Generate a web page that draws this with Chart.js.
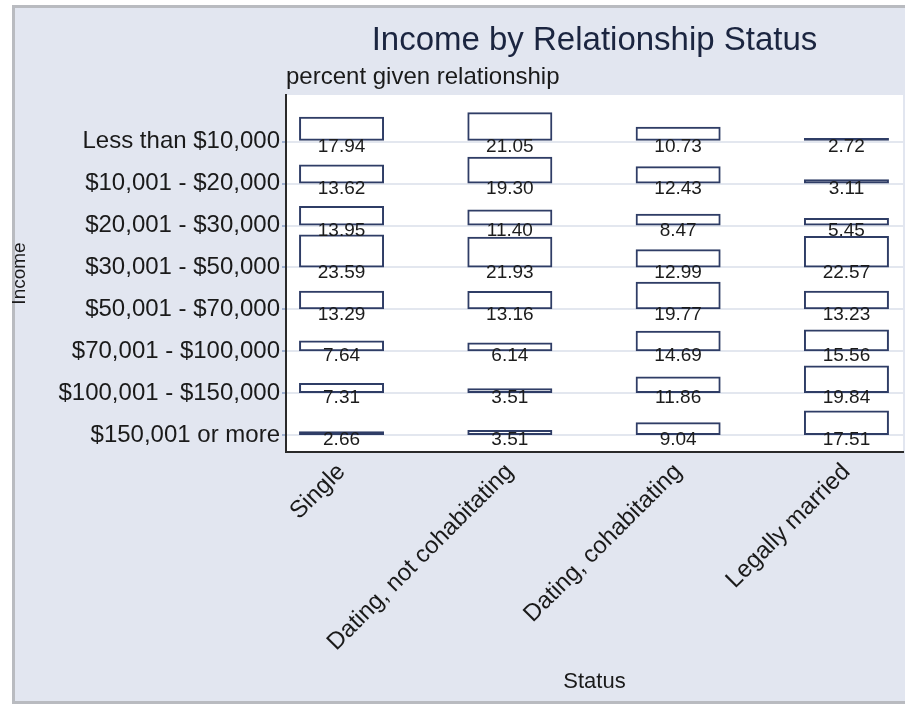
<!DOCTYPE html>
<html>
<head>
<meta charset="utf-8">
<title>Income by Relationship Status</title>
<script src="https://cdn.jsdelivr.net/npm/chart.js@4.4.1/dist/chart.umd.min.js"></script>
<style>
  html, body { margin: 0; padding: 0; background: #fff; }
  #wrap { width: 905px; height: 704px; }
</style>
</head>
<body>
<div id="wrap"><canvas id="chart" width="905" height="704"></canvas></div>
<script>
// income rows, top to bottom
const incomeLevels = [
    'Less than $10,000',
    '$10,001 - $20,000',
    '$20,001 - $30,000',
    '$30,001 - $50,000',
    '$50,001 - $70,000',
    '$70,001 - $100,000',
    '$100,001 - $150,000',
    '$150,001 or more'
];

const statuses = ['Single', 'Dating, not cohabitating', 'Dating, cohabitating', 'Legally married'];

// percent given relationship (each column sums to 100)
const single         = [17.94, 13.62, 13.95, 23.59, 13.29, 7.64, 7.31, 2.66];
const datingNotCohab = [21.05, 19.30, 11.40, 21.93, 13.16, 6.14, 3.51, 3.51];
const datingCohab    = [10.73, 12.43, 8.47, 12.99, 19.77, 14.69, 11.86, 9.04];
const legallyMarried = [2.72, 3.11, 5.45, 22.57, 13.23, 15.56, 19.84, 17.51];

const columns = [single, datingNotCohab, datingCohab, legallyMarried];

// one row of the plot holds this many percent of bar height
const PERCENT_PER_ROW = 30;

const FONT = "'Liberation Sans', Arial, sans-serif";

// bars sit on the row line and grow upward (y axis is reversed)
function buildData(values, col) {
    return values.map((v, row) => ({
        x: col + 1,
        y: [row - v / PERCENT_PER_ROW, row]
    }));
}

const datasets = columns.map((values, col) => ({
    label: statuses[col],
    data: buildData(values, col),
    grouped: false,
    backgroundColor: 'rgba(0,0,0,0)',
    borderColor: '#2f3d66',
    borderWidth: 2,
    borderSkipped: false,
    categoryPercentage: 1,
    barPercentage: 0.505
}));

// frame and white plot region
const backgroundPlugin = {
    id: 'frameBackground',
    beforeDraw(chart) {
        const { ctx, chartArea } = chart;
        ctx.save();
        ctx.fillStyle = '#ffffff';
        ctx.fillRect(0, 0, chart.width, chart.height);
        ctx.fillStyle = '#b9bbc0';
        ctx.fillRect(12, 5, chart.width - 12, chart.height - 5);
        ctx.fillStyle = '#e2e6f0';
        ctx.fillRect(15, 8, chart.width - 15, chart.height - 11);
        ctx.fillStyle = '#ffffff';
        ctx.fillRect(chartArea.left, chartArea.top,
            chartArea.right - chartArea.left, chartArea.bottom - chartArea.top);
        ctx.restore();
    }
};

// percent labels under each bar
const valueLabelPlugin = {
    id: 'valueLabels',
    afterDatasetsDraw(chart) {
        const { ctx } = chart;
        const yScale = chart.scales.y;
        ctx.save();
        ctx.font = '19px ' + FONT;
        ctx.fillStyle = '#1c1c1c';
        ctx.textAlign = 'center';
        ctx.textBaseline = 'middle';
        columns.forEach((values, col) => {
            const meta = chart.getDatasetMeta(col);
            meta.data.forEach((bar, row) => {
                const y = yScale.getPixelForValue(row) + 5;
                ctx.fillText(values[row].toFixed(2), bar.x, y);
            });
        });
        ctx.restore();
    }
};

new Chart(document.getElementById('chart'), {
    type: 'bar',
    data: { datasets },
    options: {
        responsive: false,
        animation: false,
        devicePixelRatio: 1,
        layout: {
            padding: { top: 6, left: 0, right: 2, bottom: 2 }
        },
        plugins: {
            legend: { display: false },
            tooltip: { enabled: false },
            title: {
                display: true,
                text: 'Income by Relationship Status',
                fullSize: false,
                align: 'center',
                color: '#1b2540',
                font: { family: FONT, size: 33, weight: 'normal' },
                padding: { top: 14.7, bottom: 0 }
            },
            subtitle: {
                display: true,
                text: 'percent given relationship',
                fullSize: false,
                align: 'start',
                color: '#1a1a1a',
                font: { family: FONT, size: 24, weight: 'normal' },
                padding: { top: 2.3, bottom: 3.6 }
            }
        },
        scales: {
            x: {
                type: 'linear',
                position: 'bottom',
                offset: false,
                min: 0.67,
                max: 4.336,
                afterBuildTicks(scale) {
                    scale.ticks = statuses.map((_, i) => ({ value: i + 1 }));
                },
                afterFit(scale) {
                    scale.height = 250;
                },
                grid: { display: false, drawTicks: false, offset: false },
                border: { display: true, color: '#2a2a2a', width: 2 },
                ticks: {
                    autoSkip: false,
                    minRotation: 45,
                    maxRotation: 45,
                    padding: 6,
                    color: '#1a1a1a',
                    font: { family: FONT, size: 24 },
                    callback: (value) => statuses[value - 1]
                },
                title: {
                    display: true,
                    text: 'Status',
                    color: '#1a1a1a',
                    font: { family: FONT, size: 22 },
                    padding: { top: 0, bottom: 6.8 }
                }
            },
            y: {
                type: 'linear',
                reverse: true,
                min: -1.115,
                max: 7.406,
                afterBuildTicks(scale) {
                    scale.ticks = incomeLevels.map((_, i) => ({ value: i }));
                },
                afterFit(scale) {
                    scale.width = 286;
                },
                grid: {
                    color: '#e3e7ef',
                    lineWidth: 2,
                    drawTicks: true,
                    tickLength: 4,
                    tickColor: '#9fb1d2'
                },
                border: { display: true, color: '#2a2a2a', width: 2 },
                ticks: {
                    autoSkip: false,
                    padding: 2,
                    color: '#1a1a1a',
                    font: { family: FONT, size: 24 },
                    callback: (value) => incomeLevels[value]
                },
                title: {
                    display: true,
                    text: 'Income',
                    color: '#1a1a1a',
                    font: { family: FONT, size: 19 },
                    padding: { top: 8.6, bottom: 0 }
                }
            }
        }
    },
    plugins: [backgroundPlugin, valueLabelPlugin]
});
</script>
</body>
</html>
